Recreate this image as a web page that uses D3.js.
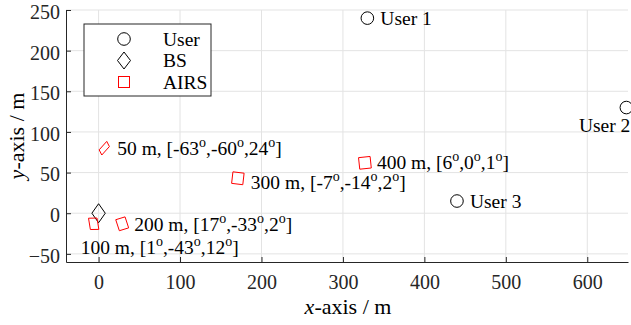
<!DOCTYPE html>
<html>
<head>
<meta charset="utf-8">
<script src="https://cdn.jsdelivr.net/npm/d3@7"></script>
<style>
  body { margin: 0; background: #fff; }
  svg text { font-family: 'Liberation Serif', 'Times New Roman', Times, 'DejaVu Serif', serif; }
</style>
</head>
<body>
<div id="chart"></div>
<script>
// Set dimensions and margins
const width = 631;
const height = 325;
const margin = {left: 66, right: 3, top: 10, bottom: 63};
const fontStack = "'Liberation Serif', 'Times New Roman', Times, 'DejaVu Serif', serif";

// Users
const userNames = ['User 1', 'User 2', 'User 3'];
const userX = [330, 648, 440];
const userY = [240, 130, 15];

// Base station
const bsX = [0];
const bsY = [0];

// AIRS: distance label, position and orientation [yaw, pitch, roll] in degrees
const airsDist = [50, 100, 200, 300, 400];
const airsX = [7, -6, 29, 171, 327];
const airsY = [80, -13, -13, 43, 62];
const airsAngles = [[-63, -60, 24], [1, -43, 12], [17, -33, 2], [-7, -14, 2], [6, 0, 1]];

// Ticks
const xTicks = [0, 100, 200, 300, 400, 500, 600];
const yTicks = [-50, 0, 50, 100, 150, 200, 250];

// Label offsets in pixels from the marker (dx, dy, anchor)
const userLabelPos = [[13, 0, 'start'], [4, 18, 'end'], [13, 0, 'start']];
const airsLabelPos = [[13, 1, 'start'], [-13, 24, 'start'], [12, 1, 'start'], [13, 5, 'start'], [12, 0, 'start']];

const svg = d3.select('#chart')
  .append('svg')
  .attr('width', width)
  .attr('height', height)
  .attr('font-family', fontStack);

const xScale = d3.scaleLinear()
  .domain([-40, 650])
  .range([margin.left, width - margin.right]);

const yScale = d3.scaleLinear()
  .domain([-60, 250])
  .range([height - margin.bottom, margin.top]);

// Grid lines
svg.append('g')
  .selectAll('line')
  .data(xTicks)
  .enter()
  .append('line')
    .attr('x1', d => xScale(d)).attr('x2', d => xScale(d))
    .attr('y1', yScale(-60)).attr('y2', yScale(250))
    .attr('stroke', '#e3e3e3').attr('stroke-width', 1);

svg.append('g')
  .selectAll('line')
  .data(yTicks)
  .enter()
  .append('line')
    .attr('x1', xScale(-40)).attr('x2', xScale(650))
    .attr('y1', d => yScale(d)).attr('y2', d => yScale(d))
    .attr('stroke', '#e3e3e3').attr('stroke-width', 1);

// Axes (ticks pointing inward)
const xAxis = svg.append('g')
  .attr('transform', `translate(0,${height - margin.bottom})`)
  .call(d3.axisBottom(xScale).tickValues(xTicks).tickSizeInner(-5).tickSizeOuter(0).tickPadding(13));

const yAxis = svg.append('g')
  .attr('transform', `translate(${margin.left},0)`)
  .call(d3.axisLeft(yScale).tickValues(yTicks).tickSizeInner(-5).tickSizeOuter(0).tickPadding(6));

[xAxis, yAxis].forEach(ax => {
  ax.attr('font-family', fontStack);
  ax.select('.domain').attr('stroke', '#262626');
  ax.selectAll('.tick line').attr('stroke', '#262626');
  ax.selectAll('.tick text')
    .attr('font-size', '20px')
    .attr('fill', '#262626');
});
yAxis.selectAll('.tick text').attr('dy', '0.42em');

// Axis titles
const xTitle = svg.append('text')
  .attr('x', 348).attr('y', 314)
  .attr('text-anchor', 'middle')
  .attr('font-size', '22px');
xTitle.append('tspan').attr('font-style', 'italic').text('x');
xTitle.append('tspan').text('-axis / m');

const yTitle = svg.append('text')
  .attr('transform', 'translate(24,136) rotate(-90)')
  .attr('text-anchor', 'middle')
  .attr('font-size', '22px');
yTitle.append('tspan').attr('font-style', 'italic').text('y');
yTitle.append('tspan').text('-axis / m');

// Projected outline of a rotated square (top view)
function squarePath(angles, h) {
  const r = Math.PI / 180;
  const [a, b, c] = angles.map(v => v * r);
  const corners = [[h, h], [-h, h], [-h, -h], [h, -h]].map(([x, y]) => {
    // Rx(c)
    let y1 = y * Math.cos(c), z1 = y * Math.sin(c), x1 = x;
    // Ry(b)
    let x2 = x1 * Math.cos(b) + z1 * Math.sin(b), y2 = y1;
    // Rz(a)
    let x3 = x2 * Math.cos(a) - y2 * Math.sin(a);
    let y3 = x2 * Math.sin(a) + y2 * Math.cos(a);
    return [x3, -y3];
  });
  return 'M' + corners.map(p => p.join(',')).join('L') + 'Z';
}

// Users
svg.append('g')
  .selectAll('circle')
  .data(userX)
  .enter()
  .append('circle')
    .attr('cx', d => xScale(d))
    .attr('cy', (d, i) => yScale(userY[i]))
    .attr('r', 6.3)
    .attr('fill', 'none')
    .attr('stroke', '#000')
    .attr('stroke-width', 1);

svg.append('g')
  .selectAll('text')
  .data(userNames)
  .enter()
  .append('text')
    .attr('x', (d, i) => xScale(userX[i]) + userLabelPos[i][0])
    .attr('y', (d, i) => yScale(userY[i]) + userLabelPos[i][1])
    .attr('dy', '0.35em')
    .attr('text-anchor', (d, i) => userLabelPos[i][2])
    .attr('font-size', '19.5px')
    .attr('fill', '#000')
    .text(d => d);

// BS diamond
svg.append('g')
  .selectAll('path')
  .data(bsX)
  .enter()
  .append('path')
    .attr('transform', (d, i) => `translate(${xScale(d)},${yScale(bsY[i])})`)
    .attr('d', 'M0,-9.5L6.7,0L0,9.5L-6.7,0Z')
    .attr('fill', 'none')
    .attr('stroke', '#000')
    .attr('stroke-width', 1);

// AIRS squares
svg.append('g')
  .selectAll('path')
  .data(airsX)
  .enter()
  .append('path')
    .attr('transform', (d, i) => `translate(${xScale(d)},${yScale(airsY[i])})`)
    .attr('d', (d, i) => squarePath(airsAngles[i], 5.8))
    .attr('fill', 'none')
    .attr('stroke', '#ff0000')
    .attr('stroke-width', 1);

// AIRS labels with degree superscripts
const airsLabels = svg.append('g')
  .selectAll('text')
  .data(airsDist)
  .enter()
  .append('text')
    .attr('x', (d, i) => xScale(airsX[i]) + airsLabelPos[i][0])
    .attr('y', (d, i) => yScale(airsY[i]) + airsLabelPos[i][1] + 6)
    .attr('font-size', '19.5px')
    .attr('fill', '#000');

airsLabels.each(function(d, i) {
  const t = d3.select(this);
  t.append('tspan').text(`${d} m, [`);
  airsAngles[i].forEach((v, k) => {
    t.append('tspan').text(v);
    t.append('tspan').attr('dy', -8).attr('font-size', '14px').text('o');
    t.append('tspan').attr('dy', 8).text(k < 2 ? ',' : ']');
  });
});

// Legend
const legend = svg.append('g').attr('transform', 'translate(84,24)');
legend.append('rect')
  .attr('width', 127).attr('height', 72)
  .attr('fill', '#fff').attr('stroke', '#262626').attr('stroke-width', 1);

const legendNames = ['User', 'BS', 'AIRS'];
const legendRows = legend.selectAll('g.row')
  .data(legendNames)
  .enter()
  .append('g')
    .attr('class', 'row')
    .attr('transform', (d, i) => `translate(0,${15 + i * 21.5})`);

legendRows.append('text')
  .attr('x', 79).attr('dy', '0.35em')
  .attr('font-size', '19.5px').attr('fill', '#000')
  .text(d => d);

legend.append('circle').attr('cx', 40).attr('cy', 15).attr('r', 6.3)
  .attr('fill', 'none').attr('stroke', '#000');
legend.append('path').attr('transform', 'translate(40,36.5)')
  .attr('d', 'M0,-8.5L6.5,0L0,8.5L-6.5,0Z')
  .attr('fill', 'none').attr('stroke', '#000');
legend.append('rect').attr('x', 34.5).attr('y', 52.5).attr('width', 11).attr('height', 11)
  .attr('fill', 'none').attr('stroke', '#ff0000');
</script>
</body>
</html>
